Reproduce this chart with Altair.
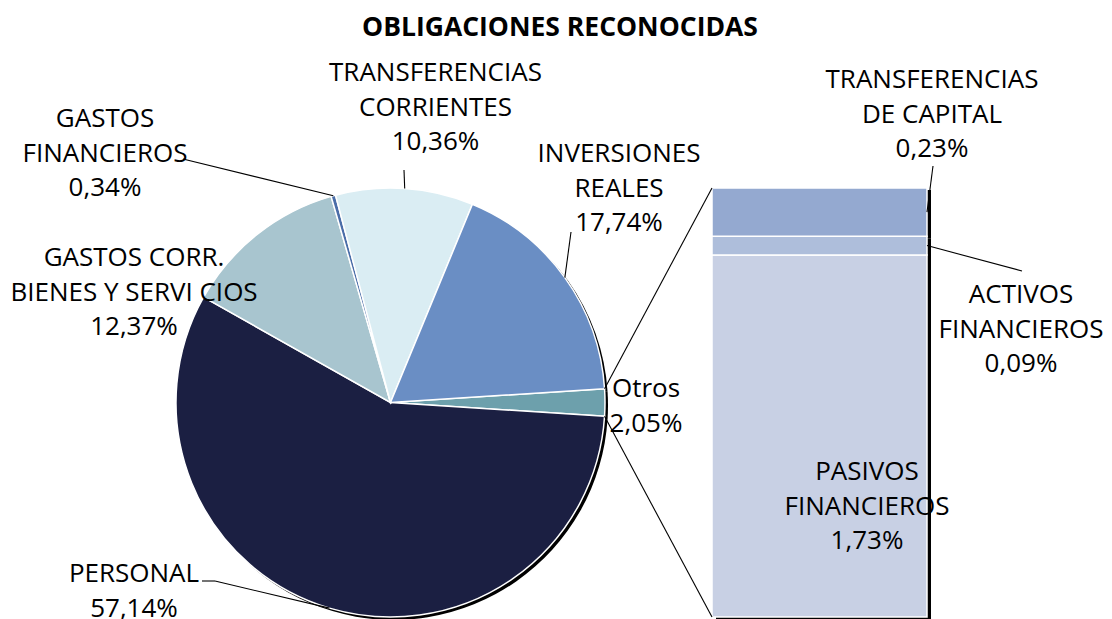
import math
import altair as alt
import pandas as pd

# ---------------- data ----------------
categories = ["Otros", "PERSONAL", "GASTOS CORR. BIENES Y SERVICIOS", "GASTOS FINANCIEROS",
              "TRANSFERENCIAS CORRIENTES", "INVERSIONES REALES"]
values = [2.05, 57.14, 12.37, 0.34, 10.36, 17.74]
label_names = ["Otros", "PERSONAL", "GASTOS CORR.\nBIENES Y SERVI CIOS", "GASTOS\nFINANCIEROS",
               "TRANSFERENCIAS\nCORRIENTES", "INVERSIONES\nREALES"]
colors = ["#6DA0AC", "#1B1F42", "#A8C5CF", "#4A6DA8", "#DAEDF3", "#6A8EC4"]

sub_categories = ["PASIVOS FINANCIEROS", "ACTIVOS FINANCIEROS", "TRANSFERENCIAS DE CAPITAL"]
sub_values = [1.73, 0.09, 0.23]
sub_label_names = ["PASIVOS\nFINANCIEROS", "ACTIVOS\nFINANCIEROS", "TRANSFERENCIAS\nDE CAPITAL"]
sub_colors = ["#C8D0E4", "#AEBEDB", "#94A9D0"]

title_text = "OBLIGACIONES RECONOCIDAS"

# ---------------- layout (page pixel coords) ----------------
W, H = 1096, 611
OFF = 8  # page margin
CX, CY, R = 390.5, 402.5, 214.5
BX0, BX1, BY0, BY1 = 712, 927, 617, 188  # bar: left, right, bottom, top

def fmt(v):
    return f"{v:.2f}".replace(".", ",") + "%"

total = sum(values)
start = math.pi / 2 - math.pi * values[0] / total

cum = [0.0]
for v in values:
    cum.append(cum[-1] + v)
def ang(c):
    return start + 2 * math.pi * c / total
def edge(a, rr=R):
    return CX + rr * math.sin(a), CY - rr * math.cos(a)

mid_angles = [ang((cum[i] + cum[i + 1]) / 2) for i in range(len(values))]

sub_total = sum(sub_values)
sub_cum = [0.0]
for v in sub_values:
    sub_cum.append(sub_cum[-1] + v)
def bar_y(c):
    return BY0 + (BY1 - BY0) * c / sub_total
sub_mid_y = [bar_y((sub_cum[i] + sub_cum[i + 1]) / 2) for i in range(len(sub_values))]

label_pos = {
    "Otros": (646, 397),
    "PERSONAL": (134, 582),
    "GASTOS CORR. BIENES Y SERVICIOS": (134, 266),
    "GASTOS FINANCIEROS": (105, 127),
    "TRANSFERENCIAS CORRIENTES": (435.5, 81),
    "INVERSIONES REALES": (619, 162),
    "PASIVOS FINANCIEROS": (867, 480),
    "ACTIVOS FINANCIEROS": (1021, 303),
    "TRANSFERENCIAS DE CAPITAL": (932, 88),
}

# ---------------- tables ----------------
pie_df = pd.DataFrame({"cat": categories, "value": values, "ord": list(range(len(values)))})
bar_df = pd.DataFrame({
    "cat": sub_categories,
    "value": sub_values,
    "lo": sub_cum[:-1],
    "hi": sub_cum[1:],
})

rows = []
for c, n, v in zip(categories, label_names, values):
    x, y = label_pos[c]
    rows.append({"text": n + "\n" + fmt(v), "x": x - OFF, "y": y - OFF})
for c, n, v in zip(sub_categories, sub_label_names, sub_values):
    x, y = label_pos[c]
    rows.append({"text": n + "\n" + fmt(v), "x": x - OFF, "y": y - OFF})
label_df = pd.DataFrame(rows)

segs = []
def seg(p, q):
    segs.append({"x": p[0] - OFF, "y": p[1] - OFF, "x2": q[0] - OFF, "y2": q[1] - OFF})

seg((183, 159), edge(mid_angles[3]))
seg((404, 170), edge(mid_angles[4]))
seg((571, 232), edge(mid_angles[5]))
seg((202, 581), (215, 581))
seg((215, 581), edge(mid_angles[1]))
seg((933, 166), (BX1, sub_mid_y[2]))
seg((1022, 271), (BX1, sub_mid_y[1]))
seg(edge(ang(cum[0])), (BX0, BY1))
seg(edge(ang(cum[1])), (BX0, BY0))
seg_df = pd.DataFrame(segs)

color_scale = alt.Scale(domain=categories + sub_categories, range=colors + sub_colors)
theta_scale = alt.Scale(domain=[0, total], range=[start, start + 2 * math.pi])
y_bar_scale = alt.Scale(domain=[0, sub_total], range=[BY0 - OFF, BY1 - OFF], zero=False, nice=False)

pie_shadow = alt.Chart(pie_df).mark_arc(outerRadius=R, color="black").encode(
    theta=alt.Theta("value:Q", stack=True, scale=theta_scale),
    order=alt.Order("ord:Q"),
    x=alt.value(CX - OFF + 3), y=alt.value(CY - OFF + 3),
)
pie = alt.Chart(pie_df).mark_arc(outerRadius=R, stroke="white", strokeWidth=1.5).encode(
    theta=alt.Theta("value:Q", stack=True, scale=theta_scale),
    color=alt.Color("cat:N", scale=color_scale, legend=None),
    order=alt.Order("ord:Q"),
    x=alt.value(CX - OFF), y=alt.value(CY - OFF),
)

bar_shadow = alt.Chart(bar_df).mark_rect(color="black", xOffset=4, yOffset=2, x2Offset=4, y2Offset=2).encode(
    x=alt.value(BX0 - OFF), x2=alt.value(BX1 - OFF),
    y=alt.Y("lo:Q", scale=y_bar_scale, axis=None), y2="hi:Q",
)
bar = alt.Chart(bar_df).mark_rect(stroke="white", strokeWidth=1.5).encode(
    x=alt.value(BX0 - OFF), x2=alt.value(BX1 - OFF),
    y=alt.Y("lo:Q", scale=y_bar_scale, axis=None), y2="hi:Q",
    color=alt.Color("cat:N", scale=color_scale, legend=None),
)

rules = alt.Chart(seg_df).mark_rule(color="black", strokeWidth=1.1).encode(
    x=alt.X("x:Q", scale=None), y=alt.Y("y:Q", scale=None),
    x2="x2:Q", y2="y2:Q",
)

labels = alt.Chart(label_df).mark_text(
    align="center", baseline="alphabetic", lineBreak="\n", fontSize=26,
    font="Open Sans", lineHeight=34.5, color="black",
).encode(
    x=alt.X("x:Q", scale=None), y=alt.Y("y:Q", scale=None), text="text:N",
)

title_df = pd.DataFrame({"text": [title_text], "x": [560 - OFF], "y": [36 - OFF]})
title = alt.Chart(title_df).mark_text(
    align="center", baseline="alphabetic", fontSize=26.5, font="Open Sans",
    fontWeight="bold", color="black",
).encode(x=alt.X("x:Q", scale=None), y=alt.Y("y:Q", scale=None), text="text:N")

chart = alt.layer(pie_shadow, pie, bar_shadow, bar, rules, labels, title).resolve_scale(
    x="independent", y="independent"
).properties(
    width=W, height=H, padding=0, autosize=alt.AutoSizeParams(type="none"),
).configure_view(stroke=None)

chart.save("out.html", embed_options={"renderer": "svg", "actions": False})
